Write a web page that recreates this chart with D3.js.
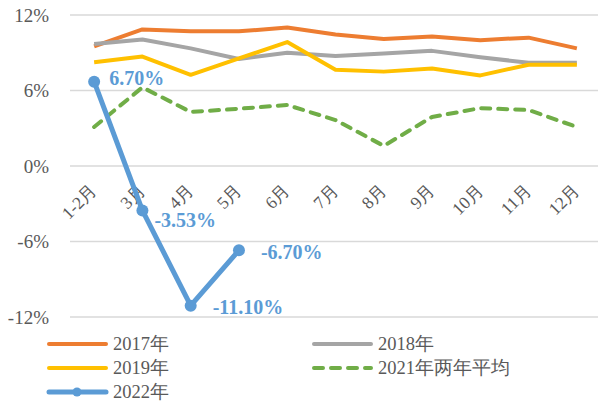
<!DOCTYPE html>
<html>
<head>
<meta charset="utf-8">
<script src="https://cdn.jsdelivr.net/npm/d3@7"></script>
<style>
  body { margin: 0; background: #fff; }
  svg text { font-family: "Liberation Serif", "Times New Roman", serif; }
</style>
</head>
<body>
<div id="chart"></div>
<script>
const months = ["1-2月", "3月", "4月", "5月", "6月", "7月", "8月", "9月", "10月", "11月", "12月"];
const yTicks = [12, 6, 0, -6, -12];
const s2017 = [9.5, 10.85, 10.7, 10.7, 11.0, 10.45, 10.1, 10.3, 10.0, 10.2, 9.35];
const s2018 = [9.7, 10.05, 9.35, 8.5, 9.0, 8.75, 8.95, 9.15, 8.65, 8.2, 8.2];
const s2019 = [8.25, 8.7, 7.25, 8.55, 9.85, 7.65, 7.5, 7.75, 7.2, 8.05, 8.05];
const s2021 = [3.1, 6.25, 4.3, 4.55, 4.85, 3.65, 1.6, 3.9, 4.6, 4.45, 3.1];
const s2022 = [6.70, -3.53, -11.10, -6.70];
const labels2022 = ["6.70%", "-3.53%", "-11.10%", "-6.70%"];

const W = 598, H = 403;
const svg = d3.select("#chart").append("svg")
    .attr("width", W).attr("height", H);

// scales
const x = d3.scaleBand().domain(months).range([70, 601]);
const y = d3.scaleLinear().domain([-12, 12]).range([317, 15]);
const cx = d => x(d) + x.bandwidth() / 2;

// grid
svg.append("g").selectAll("line")
    .data(yTicks).enter().append("line")
    .attr("x1", 70).attr("x2", 598)
    .attr("y1", d => y(d)).attr("y2", d => y(d))
    .attr("stroke", "#d9d9d9").attr("stroke-width", 1.5);

// y labels
svg.append("g").selectAll("text")
    .data(yTicks).enter().append("text")
    .attr("x", 49).attr("y", d => y(d))
    .attr("dy", "0.35em")
    .attr("text-anchor", "end")
    .attr("font-size", 19).attr("fill", "#595959")
    .text(d => d + "%");

// x labels
svg.append("g").selectAll("text")
    .data(months).enter().append("text")
    .attr("transform", d => `translate(${cx(d) + 4},${191}) rotate(-45)`)
    .attr("text-anchor", "end")
    .attr("font-size", 17.5).attr("fill", "#595959")
    .text(d => d);

const line = d3.line()
    .x((d, i) => cx(months[i]))
    .y(d => y(d));

const series = [
    { name: "2017年", data: s2017, color: "#ed7d31" },
    { name: "2018年", data: s2018, color: "#a5a5a5" },
    { name: "2019年", data: s2019, color: "#ffc000" },
    { name: "2021年两年平均", data: s2021, color: "#70ad47", dash: "9,8" }
];

series.forEach(s => {
    svg.append("path")
        .datum(s.data)
        .attr("d", line)
        .attr("fill", "none")
        .attr("stroke", s.color)
        .attr("stroke-width", 4)
        .attr("stroke-linejoin", "round")
        .attr("stroke-linecap", s.dash ? "round" : "butt")
        .attr("stroke-dasharray", s.dash || null);
});

// 2022
svg.append("path")
    .datum(s2022)
    .attr("d", line)
    .attr("fill", "none")
    .attr("stroke", "#5b9bd5")
    .attr("stroke-width", 5)
    .attr("stroke-linejoin", "round");

svg.append("g").selectAll("circle")
    .data(s2022).enter().append("circle")
    .attr("cx", (d, i) => cx(months[i]))
    .attr("cy", d => y(d))
    .attr("r", 6)
    .attr("fill", "#5b9bd5");

const labelOffsets = [[15, -4], [12, 10], [22, 1], [22, 2]];
svg.append("g").selectAll("text")
    .data(s2022).enter().append("text")
    .attr("x", (d, i) => cx(months[i]) + labelOffsets[i][0])
    .attr("y", (d, i) => y(d) + labelOffsets[i][1])
    .attr("dy", "0.35em")
    .attr("font-size", 20).attr("font-weight", "bold")
    .attr("fill", "#5b9bd5")
    .text((d, i) => labels2022[i]);

// legend
const legendItems = [
    { name: "2017年", color: "#ed7d31", lx: 47, ly: 344 },
    { name: "2018年", color: "#a5a5a5", lx: 312, ly: 344 },
    { name: "2019年", color: "#ffc000", lx: 47, ly: 368 },
    { name: "2021年两年平均", color: "#70ad47", lx: 312, ly: 368, dash: "9,8" },
    { name: "2022年", color: "#5b9bd5", lx: 47, ly: 392, marker: true }
];
const lg = svg.append("g");
legendItems.forEach(it => {
    lg.append("line")
        .attr("x1", it.lx + 2).attr("x2", it.lx + 59)
        .attr("y1", it.ly).attr("y2", it.ly)
        .attr("stroke", it.color)
        .attr("stroke-width", it.marker ? 5 : 4)
        .attr("stroke-linecap", "round")
        .attr("stroke-dasharray", it.dash || null);
    if (it.marker) {
        lg.append("circle")
            .attr("cx", it.lx + 30).attr("cy", it.ly).attr("r", 4.5)
            .attr("fill", it.color);
    }
    lg.append("text")
        .attr("x", it.lx + 66).attr("y", it.ly)
        .attr("dy", "0.35em")
        .attr("font-size", 18.5).attr("fill", "#595959")
        .text(it.name);
});
</script>
</body>
</html>
